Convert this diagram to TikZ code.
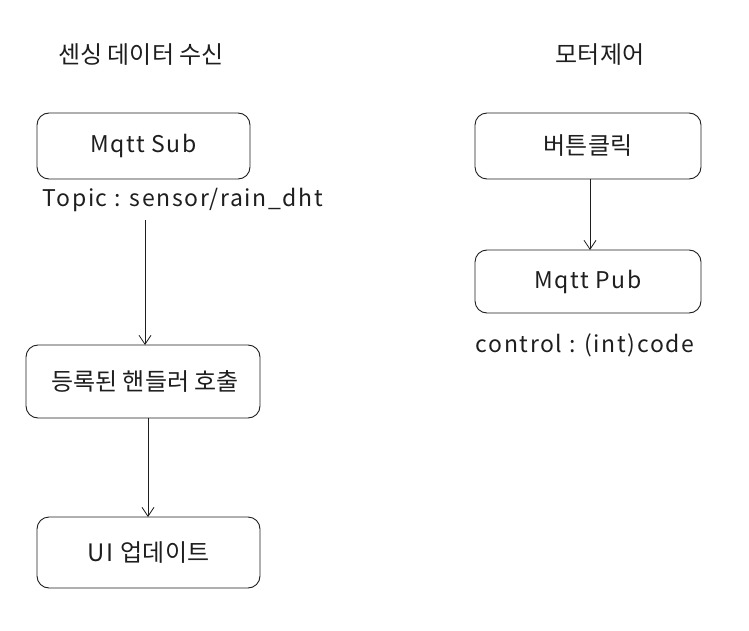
\documentclass[tikz,border=0pt]{standalone}
\usepackage{fontspec}
\setmainfont{Noto Sans CJK KR}
\newfontfamily\latf{Noto Sans CJK KR}[LetterSpace=7]
\usetikzlibrary{arrows.meta}
\definecolor{ink}{HTML}{1E1E1E}
\tikzset{
  box/.style={draw=ink, line width=0.9pt, rounded corners=12pt, fill=white},
  lbl/.style={text=ink, font=\fontsize{24}{26}\selectfont, inner sep=0pt},
  llbl/.style={text=ink, font=\latf\fontsize{23}{26}\selectfont, inner sep=0pt},
  arr/.style={draw=ink, line width=0.8pt, -{Straight Barb[length=9pt,width=12pt]}}
}
\begin{document}
\begin{tikzpicture}[x=1pt,y=-1pt]
\useasboundingbox (0,0) rectangle (749,631);
% titles
\node[lbl] (t1) at (141,55) {센싱 데이터 수신};
\node[lbl] (t2) at (600,55) {모터제어};
% left column
\path[box] (37,113) rectangle (250,179);
\node[llbl] (sub) at (143.5,146) {Mqtt Sub};
\coordinate (subB) at (145,220);
\node[llbl] (topic) at (183,200) {Topic : sensor/rain\_dht};
\path[box] (26,345) rectangle (260,418);
\node[lbl] (reg) at (145,381.5) {등록된 핸들러 호출};
\coordinate (regT) at (145,345);
\coordinate (regB) at (148,418);
\path[box] (37,517) rectangle (260,588);
\node[lbl] (ui) at (148.5,552.5) {\latf UI\ \normalfont 업데이트};
\coordinate (uiT) at (148,517);
\draw[arr] (subB) -- (regT);
\draw[arr] (regB) -- (uiT);
% right column
\path[box] (475,113) rectangle (701,179);
\node[lbl] (btn) at (588,146) {버튼클릭};
\coordinate (btnB) at (590,179);
\path[box] (475,250) rectangle (701,313);
\node[llbl] (pub) at (588,281.5) {Mqtt Pub};
\coordinate (pubT) at (590,250);
\node[llbl] (ctl) at (585,345) {control : (int)code};
\draw[arr] (btnB) -- (pubT);
\end{tikzpicture}
\end{document}
